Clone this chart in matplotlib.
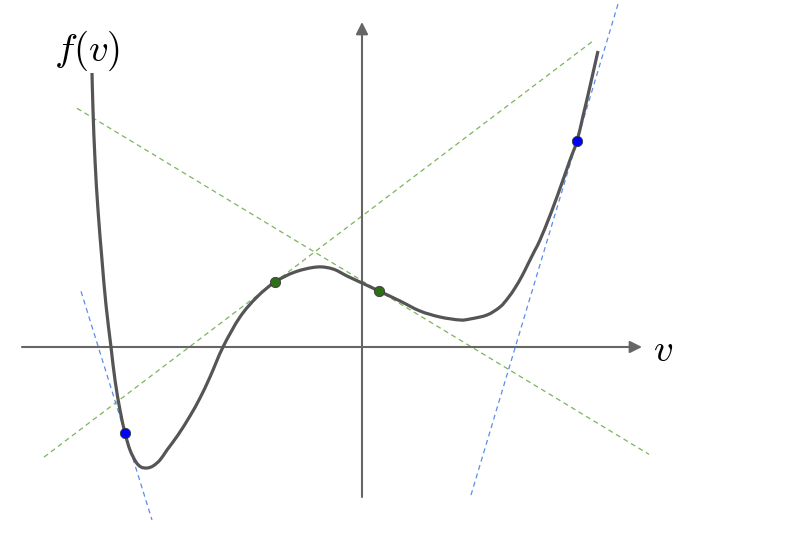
import matplotlib
matplotlib.use("Agg")
import matplotlib.pyplot as plt
from matplotlib.path import Path
from matplotlib.patches import PathPatch
import numpy as np

plt.rcParams['mathtext.fontset'] = 'cm'

# curve f(v)
v_curve = [-2.70, -2.69, -2.67, -2.64, -2.60, -2.56, -2.51, -2.47, -2.42, -2.37,
           -2.32, -2.26, -2.21, -2.15, -2.09, -2.02, -1.95, -1.84, -1.72, -1.62,
           -1.52, -1.39, -1.22, -1.05, -0.87, -0.67, -0.45, -0.29, -0.15,
           0.00, 0.17, 0.38, 0.58, 0.78, 0.98, 1.08, 1.25, 1.38, 1.46,
           1.53, 1.60, 1.66, 1.73, 1.78, 1.89, 2.01, 2.08, 2.15, 2.21,
           2.26, 2.31, 2.36]
f_curve = [2.74, 2.37, 1.87, 1.37, 0.87, 0.42, 0.00, -0.33, -0.63, -0.86,
           -1.03, -1.15, -1.20, -1.21, -1.19, -1.13, -1.03, -0.88, -0.69, -0.51,
           -0.30, 0.00, 0.30, 0.50, 0.65, 0.75, 0.80, 0.78, 0.71,
           0.64, 0.56, 0.46, 0.36, 0.30, 0.27, 0.28, 0.32, 0.40, 0.49,
           0.59, 0.71, 0.83, 0.97, 1.07, 1.34, 1.67, 1.87, 2.06, 2.31,
           2.52, 2.74, 2.96]

# tangent points
green_v = [-0.87, 0.17]
green_f = [0.65, 0.56]
green_slope = [0.758, -0.605]
green_span = [(-3.18, 2.31), (-2.85, 2.87)]

blue_v = [-2.37, 2.15]
blue_f = [-0.86, 2.06]
blue_slope = [-3.22, 3.34]
blue_span = [(-2.81, -2.10), (1.09, 2.57)]

# axes extents
x_axis = (-3.40, 2.80)
y_axis = (-1.50, 3.25)

fig = plt.figure(figsize=(8, 5.4), dpi=100)
ax = fig.add_axes([0, 0, 1, 1])
ax.set_xlim(-3.62, 4.38)
ax.set_ylim(-1.93, 3.47)
ax.axis('off')

axis_col = '#666666'
ax.annotate('', xy=(x_axis[1], 0), xytext=(x_axis[0], 0),
            arrowprops=dict(arrowstyle='-|>', color=axis_col, lw=1.5,
                            mutation_scale=18, shrinkA=0, shrinkB=0))
ax.annotate('', xy=(0, y_axis[1]), xytext=(0, y_axis[0]),
            arrowprops=dict(arrowstyle='-|>', color=axis_col, lw=1.5,
                            mutation_scale=18, shrinkA=0, shrinkB=0))

# tangent lines
for pv, pf, s, (a, b) in zip(green_v, green_f, green_slope, green_span):
    xs = np.array([a, b])
    ax.plot(xs, pf + s * (xs - pv), color='#7ab55c', lw=0.9,
            dashes=(4, 3), zorder=2)
for pv, pf, s, (a, b) in zip(blue_v, blue_f, blue_slope, blue_span):
    xs = np.array([a, b])
    ax.plot(xs, pf + s * (xs - pv), color='#5b8ee8', lw=0.9,
            dashes=(4, 3), zorder=2)

# smooth path through the read points (Bezier segments, Catmull-Rom handles)
P = np.column_stack([v_curve, f_curve])
Pe = np.vstack([P[0], P, P[-1]])
verts = [tuple(P[0])]
codes = [Path.MOVETO]
for i in range(len(P) - 1):
    p0, p1, p2, p3 = Pe[i], Pe[i + 1], Pe[i + 2], Pe[i + 3]
    c1 = p1 + (p2 - p0) / 6.0
    c2 = p2 - (p3 - p1) / 6.0
    verts += [tuple(c1), tuple(c2), tuple(p2)]
    codes += [Path.CURVE4] * 3
ax.add_patch(PathPatch(Path(verts, codes), facecolor='none',
                       edgecolor='#555555', lw=2.3, joinstyle='round',
                       capstyle='butt', zorder=3))

ax.scatter(green_v, green_f, s=55, color='#2f6e17', edgecolors='#3a3a3a',
           linewidths=0.6, zorder=4)
ax.scatter(blue_v, blue_f, s=55, color='#0000ff', edgecolors='#3a3a3a',
           linewidths=0.6, zorder=4)

ax.text(-2.745, 2.96, r'$f(v)$', fontsize=28, ha='center', va='center')
ax.text(3.01, -0.03, r'$v$', fontsize=28, ha='center', va='center')

fig.savefig('out.png', dpi=100)
